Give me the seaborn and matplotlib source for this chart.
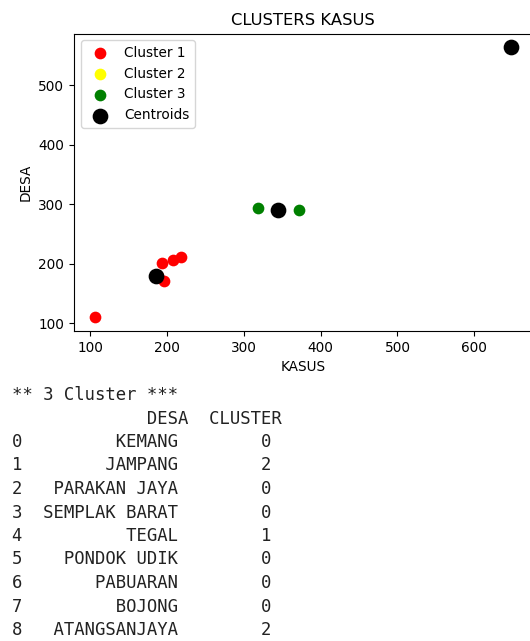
import numpy as np
import pandas as pd
import matplotlib
matplotlib.use("Agg")
import matplotlib.pyplot as plt
import seaborn as sns

# scatter values (KASUS, DESA)
c1_kasus = [106, 194, 196, 208, 218, 188]
c1_desa = [110, 202, 171, 207, 211, 179]
c2_kasus = [648]
c2_desa = [564]
c3_kasus = [318, 372]
c3_desa = [293, 291]
cent_kasus = [185, 648, 345]
cent_desa = [180, 564, 291]

cluster_names = ["Cluster 1", "Cluster 2", "Cluster 3"]
cluster_colors = ["red", "yellow", "green"]

# printed table under the chart
desa_names = ["KEMANG", "JAMPANG", "PARAKAN JAYA", "SEMPLAK BARAT", "TEGAL",
              "PONDOK UDIK", "PABUARAN", "BOJONG", "ATANGSANJAYA"]
desa_cluster = [0, 2, 0, 0, 1, 0, 0, 0, 2]

fig = plt.figure(figsize=(5.30, 6.41), dpi=100)
W, H = 530, 641
ax = fig.add_axes([74 / W, 1 - 331 / H, (532 - 74) / W, (331 - 33.5) / H])

groups = [(c1_kasus, c1_desa), (c2_kasus, c2_desa), (c3_kasus, c3_desa)]
for (xs, ys), name, col in zip(groups, cluster_names, cluster_colors):
    sns.scatterplot(x=xs, y=ys, color=col, s=48, edgecolor="face",
                    linewidth=1.5, label=name, ax=ax)
sns.scatterplot(x=cent_kasus, y=cent_desa, color="black", s=96,
                edgecolor="face", linewidth=1.5, label="Centroids", ax=ax)

ax.set_title("CLUSTERS KASUS", fontsize=11.8)
ax.set_xlabel("KASUS", fontsize=9.8)
ax.set_ylabel("DESA", fontsize=9.8)
ax.set_xticks([100, 200, 300, 400, 500, 600])
ax.set_yticks([100, 200, 300, 400, 500])
ax.tick_params(labelsize=9.8)
ax.legend(loc="upper left", fontsize=9.8)

# text output
lines = ["** 3 Cluster ***", f"{'':1}{'DESA':>16}{'CLUSTER':>9}"]
for i, (n, c) in enumerate(zip(desa_names, desa_cluster)):
    lines.append(f"{i:<1}{n:>15}{c:>9}")
for k, line in enumerate(lines):
    yb = 400 + 23.5 * k
    fig.text(11.5 / W, 1 - yb / H, line, family="DejaVu Sans Mono",
             fontsize=12.4, color="#222222", va="baseline", ha="left")

fig.savefig("out.png", dpi=100)
